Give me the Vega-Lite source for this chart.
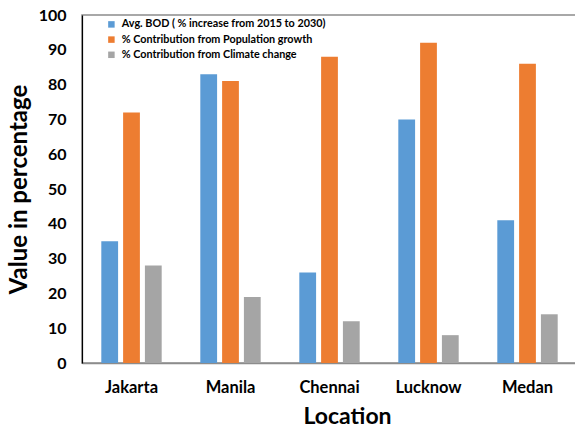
{
  "$schema": "https://vega.github.io/schema/vega-lite/v6.json",
  "autosize": "none",
  "width": 495,
  "height": 348,
  "padding": {"left": 82, "top": 15, "right": -2, "bottom": 68},
  "background": "white",
  "config": {
    "view": {"stroke": "#8c8c8c", "strokeWidth": 1.5},
    "font": "Lato",
    "axis": {"grid": false, "ticks": false, "domain": true, "labelFont": "Lato", "titleFont": "Lato", "labelColor": "#000", "titleColor": "#000", "labelFontWeight": "bold", "titleFontWeight": "bold", "labelOverlap": false},
    "axisY": {"domainColor": "#000", "domainWidth": 1.2, "labelFontSize": 16, "labelPadding": 16, "titleFontSize": 24, "titlePadding": 7},
    "axisX": {"domainColor": "#8c8c8c", "domainWidth": 1.5, "labelFontSize": 16.5, "labelPadding": 16, "labelAngle": 0, "titleFontSize": 23}
  },
  "data": {
    "values": [
      {"location": "Jakarta", "series": "Avg. BOD ( % increase from 2015 to 2030)", "value": 35},
      {"location": "Jakarta", "series": "% Contribution from Population growth", "value": 72},
      {"location": "Jakarta", "series": "% Contribution from Climate change", "value": 28},
      {"location": "Manila", "series": "Avg. BOD ( % increase from 2015 to 2030)", "value": 83},
      {"location": "Manila", "series": "% Contribution from Population growth", "value": 81},
      {"location": "Manila", "series": "% Contribution from Climate change", "value": 19},
      {"location": "Chennai", "series": "Avg. BOD ( % increase from 2015 to 2030)", "value": 26},
      {"location": "Chennai", "series": "% Contribution from Population growth", "value": 88},
      {"location": "Chennai", "series": "% Contribution from Climate change", "value": 12},
      {"location": "Lucknow", "series": "Avg. BOD ( % increase from 2015 to 2030)", "value": 70},
      {"location": "Lucknow", "series": "% Contribution from Population growth", "value": 92},
      {"location": "Lucknow", "series": "% Contribution from Climate change", "value": 8},
      {"location": "Medan", "series": "Avg. BOD ( % increase from 2015 to 2030)", "value": 41},
      {"location": "Medan", "series": "% Contribution from Population growth", "value": 86},
      {"location": "Medan", "series": "% Contribution from Climate change", "value": 14}
    ]
  },
  "mark": {"type": "bar"},
  "encoding": {
    "x": {
      "field": "location", "type": "nominal",
      "sort": ["Jakarta", "Manila", "Chennai", "Lucknow", "Medan"],
      "scale": {"paddingInner": 0.39, "paddingOuter": 0.195},
      "axis": {"title": "Location", "titleX": 265, "titleY": 60, "titleAlign": "center", "titleBaseline": "alphabetic"}
    },
    "xOffset": {
      "field": "series", "type": "nominal",
      "sort": ["Avg. BOD ( % increase from 2015 to 2030)", "% Contribution from Population growth", "% Contribution from Climate change"],
      "scale": {"paddingInner": 0.23, "paddingOuter": 0}
    },
    "y": {
      "field": "value", "type": "quantitative",
      "scale": {"domain": [0, 100], "nice": false},
      "axis": {"title": "Value in percentage", "values": [0, 10, 20, 30, 40, 50, 60, 70, 80, 90, 100], "labelOverlap": false, "domain": true, "domainColor": "#000"}
    },
    "color": {
      "field": "series", "type": "nominal",
      "scale": {
        "domain": ["Avg. BOD ( % increase from 2015 to 2030)", "% Contribution from Population growth", "% Contribution from Climate change"],
        "range": ["#5b9bd5", "#ed7d31", "#a5a5a5"]
      },
      "legend": {
        "title": null, "orient": "none", "legendX": 24, "legendY": 4, "padding": 0,
        "symbolType": "square", "symbolSize": 42, "symbolStrokeWidth": 0,
        "labelFont": "Lato", "labelFontWeight": "bold", "labelFontSize": 10.8, "labelColor": "#000",
        "labelOffset": 5, "rowPadding": 3.2, "labelLimit": 400
      }
    }
  }
}
